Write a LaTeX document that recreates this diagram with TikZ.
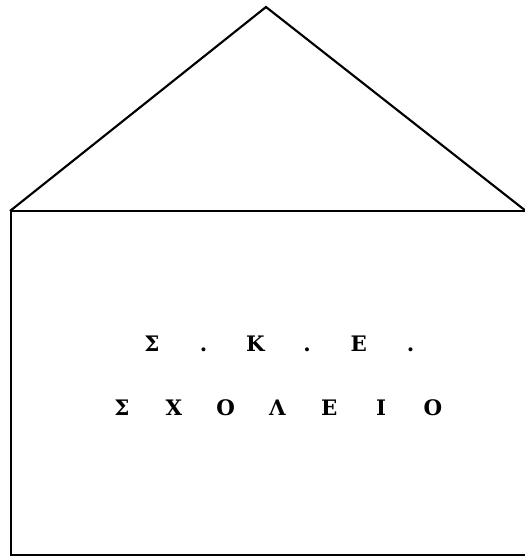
\documentclass[tikz,border=0pt]{standalone}
\usepackage{fontspec}
\newfontfamily\signfont{DejaVu Serif}
\begin{document}
\begin{tikzpicture}[x=0.75pt,y=-0.75pt,
  wall/.style={draw,line width=1.6pt,line join=miter},
  sign/.style={font=\signfont\bfseries\fontsize{16}{18}\selectfont,anchor=base,inner sep=0pt}]
\useasboundingbox (0,0) rectangle (525,558);
\clip (0,0) rectangle (525,558);
% roof
\coordinate (apex) at (266,7);
\coordinate (eaveL) at (10,211);
\coordinate (eaveR) at (531,215);
\draw[wall] (eaveL) -- (apex) -- (eaveR);
% walls
\coordinate (wallTL) at (11,211);
\coordinate (wallBR) at (535,555);
\draw[wall] (wallTL) rectangle (wallBR);
% sign, one letter per cell
\foreach \ch [count=\i from 0] in {Σ,.,Κ,.,Ε,.}
  \node[sign] (abbr\i) at (152+\i*51.7,351) {\ch};
\foreach \ch [count=\i from 0] in {Σ,Χ,Ο,Λ,Ε,Ι,Ο}
  \node[sign] (school\i) at (122+\i*51.8,415) {\ch};
\end{tikzpicture}
\end{document}
